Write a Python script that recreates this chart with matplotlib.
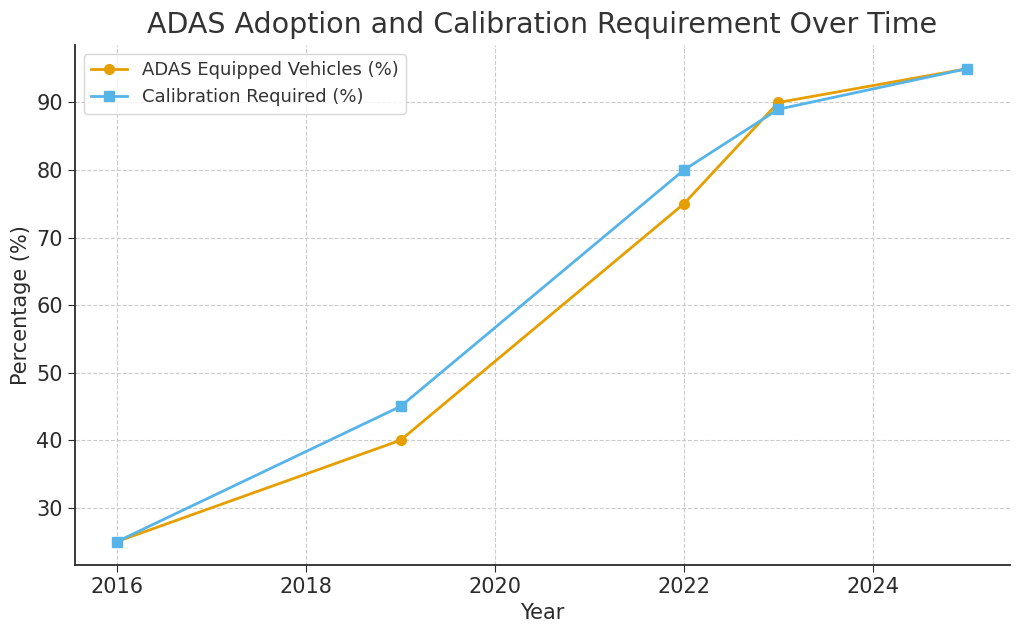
import matplotlib
matplotlib.use('Agg')
import matplotlib.pyplot as plt

years = [2016, 2019, 2022, 2023, 2025]
adas = [25, 40, 75, 90, 95]
calibration = [25, 45, 80, 89, 95]

text_color = '#2b2b2b'

fig = plt.figure(figsize=(10.24, 6.35), dpi=100)
ax = fig.add_axes([0.073, 0.110, 0.913, 0.819])

ax.plot(years, adas, color='#E69F00', marker='o', linewidth=2, markersize=7,
        label='ADAS Equipped Vehicles (%)')
ax.plot(years, calibration, color='#56B4E9', marker='s', linewidth=2, markersize=7,
        label='Calibration Required (%)')

ax.set_title('ADAS Adoption and Calibration Requirement Over Time',
             fontsize=20.5, color='#333333', pad=9)
ax.set_xlabel('Year', fontsize=15, color=text_color)
ax.set_ylabel('Percentage (%)', fontsize=15, color=text_color)
ax.tick_params(labelsize=15, colors=text_color, direction='out', length=5)

ax.grid(True, linestyle='--', color='#cccccc', linewidth=0.8)
ax.set_axisbelow(True)
for side in ['top', 'right']:
    ax.spines[side].set_visible(False)
for side in ['left', 'bottom']:
    ax.spines[side].set_color(text_color)
    ax.spines[side].set_linewidth(1.3)

leg = ax.legend(loc='upper left', fontsize=13, frameon=True)
for t in leg.get_texts():
    t.set_color('#333333')

fig.savefig('out.png', dpi=100)
